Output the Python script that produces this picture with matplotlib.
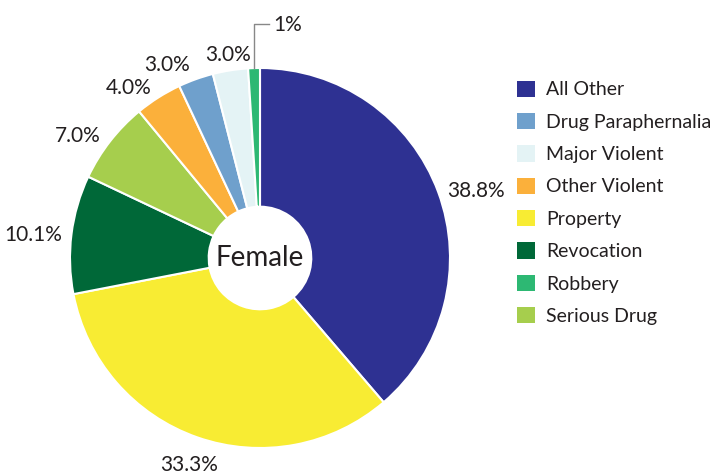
import numpy as np
import matplotlib.pyplot as plt
from matplotlib.patches import Patch

plt.rcParams['font.family'] = ['Lato', 'DejaVu Sans']

# pie order (clockwise from top)
categories = ["All Other", "Property", "Revocation", "Serious Drug",
              "Other Violent", "Drug Paraphernalia", "Major Violent", "Robbery"]
values = [38.8, 33.3, 10.1, 7.0, 4.0, 3.0, 3.0, 1.0]
pct_labels = ["38.8%", "33.3%", "10.1%", "7.0%", "4.0%", "3.0%", "3.0%", "1%"]
colors = {"All Other": "#2E3192", "Drug Paraphernalia": "#6FA0CC",
          "Major Violent": "#E4F3F5", "Other Violent": "#FBB03B",
          "Property": "#F8EC33", "Revocation": "#006838",
          "Robbery": "#2DB873", "Serious Drug": "#A6CE4D"}
legend_order = ["All Other", "Drug Paraphernalia", "Major Violent", "Other Violent",
                "Property", "Revocation", "Robbery", "Serious Drug"]
# label placement: distance from centre (radii) and alignment
label_r = [1.05, 1.14, 1.05, 1.06, 1.07, 1.09, 1.09, None]
label_ha = ["left", "center", "right", "right", "right", "right", "center", None]

fig = plt.figure(figsize=(7.19, 4.76), dpi=100)
ax = fig.add_axes([70 / 719, 28 / 476, 380 / 719, 380 / 476])

wedges, _ = ax.pie(values, colors=[colors[c] for c in categories],
                   startangle=90, counterclock=False, radius=1,
                   wedgeprops=dict(width=0.73, edgecolor="white", linewidth=1.5))
ax.set_xlim(-1, 1)
ax.set_ylim(-1, 1)
ax.set_aspect("equal")
ax.axis("off")

for w, lab, r, ha in zip(wedges, pct_labels, label_r, label_ha):
    ang = np.deg2rad((w.theta1 + w.theta2) / 2)
    if r is None:
        # small slice: leader line up and to the right
        x0 = np.cos(ang)
        ax.plot([x0, x0, x0 + 0.08], [1.0, 1.23, 1.23], color="#888888", lw=1, clip_on=False)
        ax.text(x0 + 0.1, 1.235, lab, ha="left", va="center_baseline", fontsize=15, color="#231F20")
    else:
        ax.text(r * np.cos(ang), r * np.sin(ang), lab, ha=ha, va="center_baseline",
                fontsize=15, color="#231F20")

ax.text(0, 0, "Female", ha="center", va="center", fontsize=20, color="#231F20")

handles = [Patch(facecolor=colors[c], edgecolor="none") for c in legend_order]
fig.legend(handles, legend_order, loc="upper left", bbox_to_anchor=(499.5 / 719, 1 - 63 / 476),
           frameon=False, fontsize=14, handlelength=0.93, handleheight=0.93,
           labelspacing=0.74, handletextpad=0.55, labelcolor="#231F20")

fig.savefig("out.png", dpi=100)
